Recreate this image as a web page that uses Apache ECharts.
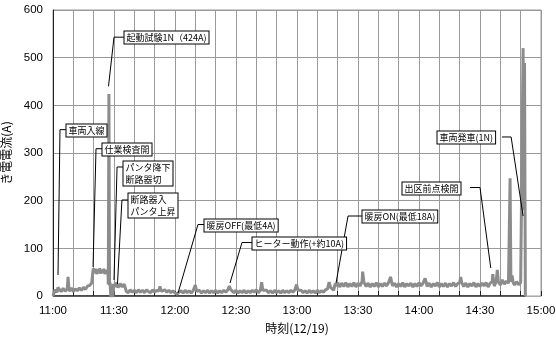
<!DOCTYPE html>
<html><head><meta charset="utf-8">
<script src="https://cdn.jsdelivr.net/npm/echarts@6/dist/echarts.min.js"></script>
<style>html,body{margin:0;padding:0;background:#fff}#c{width:556px;height:338px}</style>
</head><body><div id="c"></div>
<script>
// minutes since 11:00
var times = [0,0.6,1,2,2.4,3,4,5,6,7,7.4,7.8,8,9,10,11,12,13,14,15,16,17,18,19,19.6,
19.8,20.3,21,21.5,22,22.5,23,23.5,24,24.5,25,25.5,26,26.5,27,27.2,27.5,27.8,28.1,28.4,29.5,29.7,30.5,31,32,33,34,35,35.5,36,
37,38,39,40,41,42,43,44,45,46,47,48,49,50,51,52,52.6,53.2,54,55,56,57,58,59,60,61,62,63,64,65,66,67,68,69,70,70.6,
71,72,73,74,75,76,77,78,79,80,81,82,83,84,85,86,86.7,87.3,88,89,90,91,92,93,94,95,96,97,98,99,100,101,102,102.6,103.2,
104,105,106,107,108,109,110,111,112,113,114,115,116,117,118,119,119.8,120.5,121,122,123,124,125,126,127,128,129,130,131,132,133,134,135,135.8,136.5,137,138,138.5,138.8,
139.5,140,141,142,143,144,145,146,147,148,149,150,151,152,152.3,152.8,153,154,155,156,157,158,159,160,161,162,163,164,165,166,166.6,
167,168,169,170,171,172,173,174,175,176,177,178,179,180,181,182,183,183.6,184,185,186,187,188,189,190,191,192,193,194,195,196,197,198,199,200,200.5,
201,202,203,204,205,206,207,208,209,210,211,212,213,214,215,216,216.3,216.8,217,218,218.5,219,220,221,222,223,224,224.8,225.2,225.8,226.3,227,228,229,230,230.8,231.2,231.6,231.9,232.3];
var currentA = [0,3,13,8,18,14,9,16,10,15,40,16,10,17,9,15,11,17,12,18,14,21,22,27,24,
58,48,57,46,56,48,58,47,55,49,57,46,54,48,55,24,424,22,28,0,0,25,19,28,18,26,19,25,18,10,
7,13,8,12,7,13,8,12,7,13,9,7,13,8,12,10,20,10,7,13,8,12,7,11,6,4,8,11,6,12,7,11,6,12,23,10,
7,12,6,11,7,12,6,11,7,12,6,11,7,12,8,13,21,14,10,7,12,6,11,7,12,6,11,7,12,8,13,7,12,29,12,
8,12,7,11,6,12,7,11,6,12,7,11,7,12,8,13,24,12,8,12,7,11,6,12,7,11,6,12,7,11,8,13,15,29,18,14,12,8,26,
21,28,19,27,20,28,19,26,20,28,19,27,21,30,51,33,28,20,27,19,26,20,28,19,26,20,27,21,28,40,28,
21,27,19,26,20,28,19,26,21,27,19,26,20,28,21,27,37,28,20,27,19,26,21,28,19,26,20,27,19,26,21,28,20,26,28,40,
28,20,27,19,26,21,28,19,26,20,27,21,28,19,27,30,46,28,21,30,55,30,23,34,25,31,27,247,30,43,28,23,30,24,28,30,520,180,489,0];
var baseTimes = [0, 232.3];
var baseValues = [0, 0];
var xTickLabels = ['11:00','11:30','12:00','12:30','13:00','13:30','14:00','14:30','15:00'];
var yTickValues = [0,100,200,300,400,500,600];
var xTitle = '時刻(12/19)';
var yTitle = 'き電電流(A)';

var annoLabels = ['車両入線','起動試験1N（424A)','仕業検査開','パンタ降下\n断路器切','断路器入\nパンタ上昇','暖房OFF(最低4A)','ヒーター動作(+約10A)','暖房ON(最低18A)','出区前点検開','車両発車(1N)'];
// layout (data coordinates): box top-left, leader start, elbow, tip
var annoBox = [[6.4,361],[34.9,556],[24.1,321],[34.4,283],[36.9,216],[74.3,161.5],[97.9,124],[152,180.4],[171.6,239.2],[188.9,346.2]];
var annoStart = [[6.4,349],[34.9,543],[24.1,309],[34.4,270.6],[36.9,201.4],[74.3,150],[97.9,112.2],[152,167.8],[205.1,227.6],[220.8,333.6]];
var annoElbow = [[3.44,349],[30,543],[21.15,309],[31.5,270.6],[33.9,201.4],[71.3,150],[92.95,112.2],[145.1,167.8],[210,227.6],[225.3,333.6]];
var annoTip = [[2.46,44],[27.3,440],[19.7,61],[30,33.6],[31.7,25],[61.5,6.3],[87.05,27.3],[139.2,27.3],[215.3,58.7],[231.2,167.8]];

var chart = echarts.init(document.getElementById('c'), null, {renderer:'canvas', width:556, height:338});
var mainData = times.map(function(t,i){return [t, currentA[i]];});
var baseData = baseTimes.map(function(t,i){return [t, baseValues[i]];});
var FONT = '"Liberation Sans", Arial, sans-serif';
chart.setOption({
  animation:false,
  grid:{left:53,right:15,top:10,bottom:42,containLabel:false,outerBoundsMode:'none',show:true,borderColor:'#9a9a9a',borderWidth:1},
  xAxis:{type:'value',min:0,max:240,interval:10,
    name:xTitle,nameLocation:'middle',nameGap:26,
    nameTextStyle:{color:'#000',fontSize:12,fontFamily:'"Noto Sans CJK JP", sans-serif'},
    axisLine:{show:true,lineStyle:{color:'#aaaaaa',width:1}},
    axisTick:{show:true,inside:true,length:5,lineStyle:{color:'#222'}},
    splitLine:{show:true,lineStyle:{color:'#9a9a9a',width:1}},
    axisLabel:{color:'#000',fontSize:11.5,fontFamily:FONT,margin:9,
      formatter:function(v){return v%30===0?xTickLabels[v/30]:'';}}},
  yAxis:{type:'value',min:0,max:600,interval:100,
    name:yTitle,nameLocation:'middle',nameGap:36,nameRotate:90,
    nameTextStyle:{color:'#000',fontSize:12,fontFamily:'"Noto Sans CJK JP", sans-serif'},
    axisLine:{show:true,lineStyle:{color:'#222',width:1}},
    axisTick:{show:false},
    splitLine:{show:true,lineStyle:{color:'#9a9a9a',width:1}},
    axisLabel:{color:'#000',fontSize:11.5,fontFamily:FONT,margin:10,
      formatter:function(v){return yTickValues.indexOf(v)>=0?String(v):'';}}},
  series:[
    {type:'line',data:baseData,showSymbol:false,lineStyle:{color:'#222',width:1.5},z:1,silent:true},
    {type:'line',data:mainData,showSymbol:false,lineStyle:{color:'#8c8c8c',width:3},z:2,silent:true}
  ]
});
function px(p){return chart.convertToPixel({gridIndex:0},p);}
var g = [];
for (var i=0;i<annoLabels.length;i++){
  var s=px(annoStart[i]), e=px(annoElbow[i]), t=px(annoTip[i]), b=px(annoBox[i]);
  g.push({type:'polyline',z:50,shape:{points:[s,e,t]},style:{stroke:'#000',lineWidth:1,fill:null}});
  g.push({type:'text',z:60,x:Math.round(b[0])+0.5,y:Math.round(b[1])+0.5,style:{text:annoLabels[i],fill:'#000',
    font:'9px "Noto Sans CJK JP", sans-serif',lineHeight:12,backgroundColor:'#fff',borderColor:'#000',borderWidth:1,padding:[0,2,0,2]}});
}
chart.setOption({graphic:g});
</script></body></html>
